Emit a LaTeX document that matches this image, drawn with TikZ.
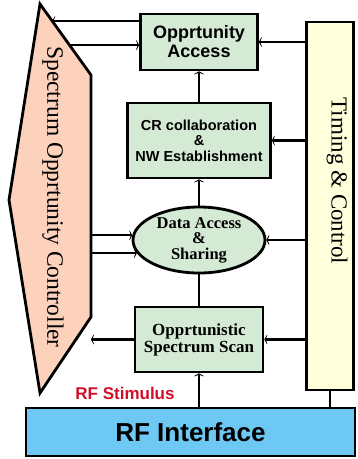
\documentclass[tikz,border=0pt]{standalone}
\usepackage{fontspec}
\setmainfont{Liberation Serif}
\setsansfont{Liberation Sans}
\usetikzlibrary{arrows.meta,calc,shapes.geometric}
\definecolor{boxgreen}{RGB}{213,234,212}
\definecolor{ctrlpink}{RGB}{252,210,188}
\definecolor{timyellow}{RGB}{255,255,220}
\definecolor{rfblue}{RGB}{110,200,244}
\definecolor{stimred}{RGB}{208,16,42}
\newcommand{\fsz}[2]{\fontsize{#1}{#2}\selectfont}
\tikzset{
	sos diagram/.style={
		x=1pt, y=-1pt,
		wire/.style={line width=2.2pt},
		ar/.style={wire,-{Stealth[length=3.6pt,width=13pt,inset=2.4pt]}},
		},
	blk/.style={draw,line width=2.8pt,fill=boxgreen,align=center,inner sep=1pt},
	blk sans/.style={blk,font=\sffamily\bfseries\fsz{#1}{#1}},
	blk serif/.style={blk,font=\rmfamily\bfseries\fsz{#1}{#1}}
}

\begin{document}
\begin{tikzpicture}[sos diagram]
	\useasboundingbox (0,0) rectangle (357,459);
	% controller
	\coordinate (ctop) at (40,4);
	\coordinate (crt) at (91,75);
	\coordinate (crb) at (91,317);
	\coordinate (cbot) at (40,393);
	\coordinate (cleft) at (9,200);
	\draw[line width=2.8pt,fill=ctrlpink,line join=miter] (ctop) -- (crt) -- (crb) -- (cbot) -- (cleft) -- cycle;
	\node[rotate=-90,font=\fsz{23.5}{23.5}] (ctrltxt) at (53,197) {Spectrum Opprtunity Controller};
	% timing
	\node[draw,line width=2.8pt,fill=timyellow,minimum width=47,minimum height=368] (tim) at (330,206) {};
	\node[rotate=-90,font=\fsz{23}{23}] (timtxt) at (337,181) {Timing \& Control};
	% blocks
	\node[blk sans=18,minimum width=117,minimum height=56] (acc) at (199,42) {Opprtunity\\[1pt]Access};
	\node[blk sans=14.5,minimum width=143,minimum height=75] (cr) at (199,140.5) {CR collaboration\\[1pt]\&\\[1pt]NW Establishment};
	\node[blk serif=16.5,ellipse,minimum width=132,minimum height=66,inner sep=0pt] (ell) at (199,240) {Data Access\\[-1pt]\&\\[-1pt]Sharing};
	\node[blk serif=17,minimum width=128,minimum height=65] (scan) at (199,339.5) {Opprtunistic\\[0pt]Spectrum Scan};
	\node[draw,line width=2.8pt,fill=rfblue,minimum width=329,minimum height=48,font=\sffamily\bfseries\fsz{26}{26}] (rf) at (190.5,432) {RF Interface};
	\node[font=\sffamily\bfseries\fsz{17}{17},text=stimred] (stim) at (125,393) {RF Stimulus};
	% controller links
	\coordinate (cin) at ($(ctop)!.24!(crt)$);
	\coordinate (cout) at ($(ctop)!.58!(crt)$);
	\draw[ar] (acc.west |- cin) -- (cin);
	\draw[ar] (cout) -- (acc.west |- cout);
	\draw[wire] ($(cr.west)+(0,-12.5)$) -- ($(cr.west)+(0,-12.5)$ -| crt);
	\draw[wire] ($(cr.west)+(0,12.5)$) -- ($(cr.west)+(0,12.5)$ -| crt);
	\draw[ar] (ell.176 -| crt) -- (ell.176);
	\draw[ar] (ell.192 -| crt) -- (ell.192);
	\draw[ar] (scan.west) -- (scan.west -| crt);
	% timing links
	\draw[ar] (tim.west |- acc.east) -- (acc.east);
	\draw[ar] (tim.west |- cr.east) -- (cr.east);
	\draw[ar] (tim.west |- ell.east) -- (ell.east);
	\draw[ar] (tim.west |- scan.east) -- (scan.east);
	\draw[wire] (tim.south) -- (tim.south |- rf.north);
	% vertical chain
	\draw[ar] (cr.north) -- (acc.south);
	\draw[ar] (ell.north) -- (cr.south);
	\draw[wire] (ell.south) -- (scan.north);
	\draw[ar] (rf.north -| scan.south) -- (scan.south);
\end{tikzpicture}
\end{document}
